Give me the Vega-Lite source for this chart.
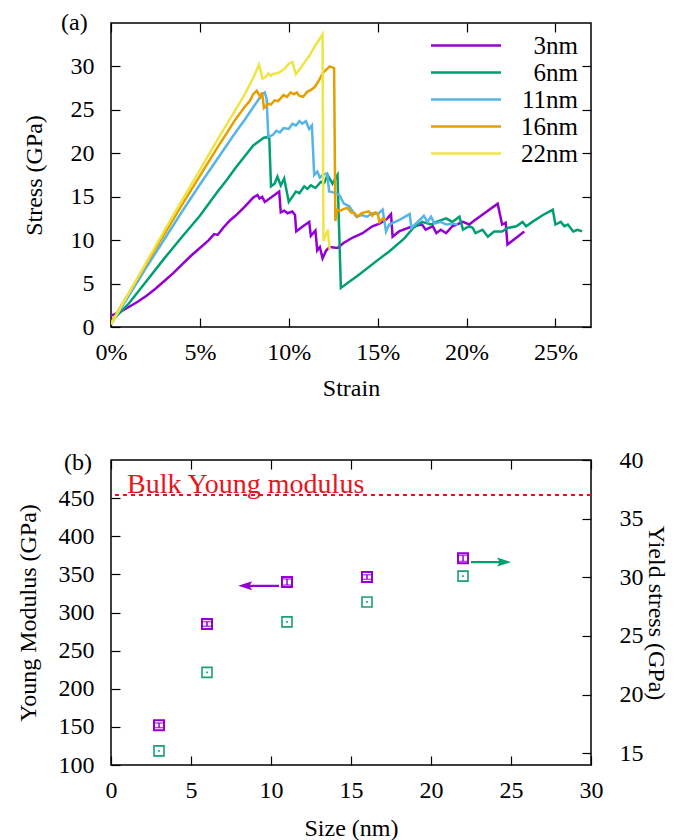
{
  "$schema": "https://vega.github.io/schema/vega-lite/v6.json",
  "padding": {"left": 15, "top": 10, "right": 5, "bottom": 5},
  "config": {
    "font": "Liberation Serif",
    "view": {"stroke": "black", "strokeWidth": 1.5},
    "axis": {"domain": false, "grid": false, "labelFlush": false, "tickSize": -9, "tickWidth": 1.2, "tickColor": "black", "labelFont": "Liberation Serif", "titleFont": "Liberation Serif", "labelFontSize": 24, "titleFontSize": 24, "titleFontWeight": "normal", "labelColor": "black", "titleColor": "black"},
    "axisX": {"labelPadding": 22},
    "axisY": {"labelPadding": 26},
    "title": {"font": "Liberation Serif", "fontSize": 24, "fontWeight": "normal", "color": "black"}
  },
  "datasets": {
    "curves": [
      {"d":"3nm","strain":0,"stress":1.3},{"d":"3nm","strain":0.005,"stress":1.7},{"d":"3nm","strain":0.01,"stress":2.3},{"d":"3nm","strain":0.015,"stress":2.9},{"d":"3nm","strain":0.02,"stress":3.6},{"d":"3nm","strain":0.025,"stress":4.4},{"d":"3nm","strain":0.03,"stress":5.3},{"d":"3nm","strain":0.035,"stress":6.2},{"d":"3nm","strain":0.04,"stress":7.2},{"d":"3nm","strain":0.045,"stress":8.2},{"d":"3nm","strain":0.05,"stress":9.1},{"d":"3nm","strain":0.055,"stress":10.0},{"d":"3nm","strain":0.058,"stress":10.7},{"d":"3nm","strain":0.06,"stress":10.6},{"d":"3nm","strain":0.063,"stress":11.4},{"d":"3nm","strain":0.067,"stress":12.3},{"d":"3nm","strain":0.07,"stress":12.8},{"d":"3nm","strain":0.075,"stress":13.8},{"d":"3nm","strain":0.08,"stress":14.9},{"d":"3nm","strain":0.0824,"stress":15.2},{"d":"3nm","strain":0.0835,"stress":14.8},{"d":"3nm","strain":0.085,"stress":15.0},{"d":"3nm","strain":0.0865,"stress":14.4},{"d":"3nm","strain":0.09,"stress":14.9},{"d":"3nm","strain":0.0946,"stress":15.6},{"d":"3nm","strain":0.0955,"stress":13.2},{"d":"3nm","strain":0.0975,"stress":13.4},{"d":"3nm","strain":0.0993,"stress":13.1},{"d":"3nm","strain":0.102,"stress":13.3},{"d":"3nm","strain":0.1035,"stress":12.9},{"d":"3nm","strain":0.1042,"stress":11.0},{"d":"3nm","strain":0.108,"stress":11.6},{"d":"3nm","strain":0.1115,"stress":12.1},{"d":"3nm","strain":0.1124,"stress":10.5},{"d":"3nm","strain":0.115,"stress":11.1},{"d":"3nm","strain":0.116,"stress":8.8},{"d":"3nm","strain":0.1175,"stress":9.2},{"d":"3nm","strain":0.119,"stress":7.9},{"d":"3nm","strain":0.121,"stress":8.8},{"d":"3nm","strain":0.123,"stress":9.2},{"d":"3nm","strain":0.1274,"stress":9.1},{"d":"3nm","strain":0.131,"stress":9.7},{"d":"3nm","strain":0.136,"stress":10.3},{"d":"3nm","strain":0.1415,"stress":10.8},{"d":"3nm","strain":0.147,"stress":11.6},{"d":"3nm","strain":0.151,"stress":11.9},{"d":"3nm","strain":0.155,"stress":12.4},{"d":"3nm","strain":0.1575,"stress":13.0},{"d":"3nm","strain":0.1584,"stress":10.4},{"d":"3nm","strain":0.162,"stress":11.0},{"d":"3nm","strain":0.1696,"stress":11.6},{"d":"3nm","strain":0.175,"stress":11.8},{"d":"3nm","strain":0.177,"stress":11.2},{"d":"3nm","strain":0.181,"stress":11.6},{"d":"3nm","strain":0.183,"stress":10.8},{"d":"3nm","strain":0.1855,"stress":11.2},{"d":"3nm","strain":0.1885,"stress":10.8},{"d":"3nm","strain":0.192,"stress":11.6},{"d":"3nm","strain":0.198,"stress":12.1},{"d":"3nm","strain":0.2015,"stress":11.8},{"d":"3nm","strain":0.204,"stress":12.2},{"d":"3nm","strain":0.2175,"stress":14.2},{"d":"3nm","strain":0.22,"stress":11.8},{"d":"3nm","strain":0.222,"stress":12.0},{"d":"3nm","strain":0.223,"stress":9.5},{"d":"3nm","strain":0.2325,"stress":11.0},
      {"d":"6nm","strain":0,"stress":0.6},{"d":"6nm","strain":0.01,"stress":2.7},{"d":"6nm","strain":0.02,"stress":5.3},{"d":"6nm","strain":0.03,"stress":7.9},{"d":"6nm","strain":0.04,"stress":10.4},{"d":"6nm","strain":0.05,"stress":12.8},{"d":"6nm","strain":0.06,"stress":15.6},{"d":"6nm","strain":0.065,"stress":16.9},{"d":"6nm","strain":0.07,"stress":18.3},{"d":"6nm","strain":0.075,"stress":19.6},{"d":"6nm","strain":0.08,"stress":20.9},{"d":"6nm","strain":0.084,"stress":21.5},{"d":"6nm","strain":0.086,"stress":21.8},{"d":"6nm","strain":0.089,"stress":21.9},{"d":"6nm","strain":0.09,"stress":16.2},{"d":"6nm","strain":0.092,"stress":16.5},{"d":"6nm","strain":0.0936,"stress":17.3},{"d":"6nm","strain":0.0955,"stress":16.3},{"d":"6nm","strain":0.0974,"stress":17.1},{"d":"6nm","strain":0.1,"stress":14.4},{"d":"6nm","strain":0.104,"stress":15.6},{"d":"6nm","strain":0.106,"stress":15.4},{"d":"6nm","strain":0.1087,"stress":16.2},{"d":"6nm","strain":0.1105,"stress":15.9},{"d":"6nm","strain":0.1124,"stress":16.3},{"d":"6nm","strain":0.115,"stress":16.0},{"d":"6nm","strain":0.118,"stress":16.7},{"d":"6nm","strain":0.12,"stress":16.6},{"d":"6nm","strain":0.1218,"stress":17.5},{"d":"6nm","strain":0.1246,"stress":16.5},{"d":"6nm","strain":0.1274,"stress":17.5},{"d":"6nm","strain":0.1293,"stress":4.5},{"d":"6nm","strain":0.14,"stress":6.1},{"d":"6nm","strain":0.15,"stress":7.7},{"d":"6nm","strain":0.1565,"stress":8.7},{"d":"6nm","strain":0.165,"stress":10.2},{"d":"6nm","strain":0.17,"stress":11.4},{"d":"6nm","strain":0.175,"stress":12.1},{"d":"6nm","strain":0.18,"stress":11.8},{"d":"6nm","strain":0.183,"stress":12.1},{"d":"6nm","strain":0.1885,"stress":12.5},{"d":"6nm","strain":0.192,"stress":12.1},{"d":"6nm","strain":0.196,"stress":12.7},{"d":"6nm","strain":0.198,"stress":11.2},{"d":"6nm","strain":0.2015,"stress":11.6},{"d":"6nm","strain":0.2035,"stress":11.4},{"d":"6nm","strain":0.205,"stress":10.8},{"d":"6nm","strain":0.209,"stress":11.2},{"d":"6nm","strain":0.212,"stress":10.4},{"d":"6nm","strain":0.2155,"stress":11.0},{"d":"6nm","strain":0.22,"stress":11.0},{"d":"6nm","strain":0.223,"stress":11.4},{"d":"6nm","strain":0.228,"stress":11.6},{"d":"6nm","strain":0.2315,"stress":12.1},{"d":"6nm","strain":0.2335,"stress":11.6},{"d":"6nm","strain":0.237,"stress":12.1},{"d":"6nm","strain":0.243,"stress":12.9},{"d":"6nm","strain":0.2485,"stress":13.5},{"d":"6nm","strain":0.25,"stress":11.8},{"d":"6nm","strain":0.253,"stress":12.1},{"d":"6nm","strain":0.255,"stress":11.6},{"d":"6nm","strain":0.257,"stress":11.8},{"d":"6nm","strain":0.26,"stress":11.0},{"d":"6nm","strain":0.2625,"stress":11.2},{"d":"6nm","strain":0.265,"stress":11.0},
      {"d":"11nm","strain":0,"stress":0.3},{"d":"11nm","strain":0.01,"stress":3.6},{"d":"11nm","strain":0.02,"stress":6.9},{"d":"11nm","strain":0.03,"stress":10.1},{"d":"11nm","strain":0.04,"stress":13.3},{"d":"11nm","strain":0.05,"stress":16.4},{"d":"11nm","strain":0.06,"stress":19.4},{"d":"11nm","strain":0.07,"stress":22.4},{"d":"11nm","strain":0.075,"stress":23.8},{"d":"11nm","strain":0.08,"stress":25.3},{"d":"11nm","strain":0.085,"stress":26.8},{"d":"11nm","strain":0.0865,"stress":27.0},{"d":"11nm","strain":0.0875,"stress":26.3},{"d":"11nm","strain":0.0885,"stress":21.9},{"d":"11nm","strain":0.091,"stress":22.1},{"d":"11nm","strain":0.093,"stress":22.6},{"d":"11nm","strain":0.095,"stress":22.4},{"d":"11nm","strain":0.097,"stress":22.9},{"d":"11nm","strain":0.1,"stress":22.8},{"d":"11nm","strain":0.102,"stress":23.4},{"d":"11nm","strain":0.104,"stress":23.2},{"d":"11nm","strain":0.106,"stress":23.7},{"d":"11nm","strain":0.1075,"stress":23.4},{"d":"11nm","strain":0.1096,"stress":23.7},{"d":"11nm","strain":0.1115,"stress":22.8},{"d":"11nm","strain":0.113,"stress":23.2},{"d":"11nm","strain":0.1143,"stress":17.5},{"d":"11nm","strain":0.116,"stress":17.9},{"d":"11nm","strain":0.1175,"stress":17.2},{"d":"11nm","strain":0.119,"stress":17.5},{"d":"11nm","strain":0.1216,"stress":17.7},{"d":"11nm","strain":0.1227,"stress":15.6},{"d":"11nm","strain":0.125,"stress":15.5},{"d":"11nm","strain":0.1265,"stress":15.4},{"d":"11nm","strain":0.1284,"stress":15.2},{"d":"11nm","strain":0.131,"stress":14.2},{"d":"11nm","strain":0.134,"stress":13.9},{"d":"11nm","strain":0.136,"stress":13.3},{"d":"11nm","strain":0.138,"stress":12.7},{"d":"11nm","strain":0.141,"stress":12.9},{"d":"11nm","strain":0.144,"stress":12.7},{"d":"11nm","strain":0.147,"stress":13.1},{"d":"11nm","strain":0.15,"stress":13.0},{"d":"11nm","strain":0.1528,"stress":13.5},{"d":"11nm","strain":0.1547,"stress":11.0},{"d":"11nm","strain":0.1565,"stress":11.8},{"d":"11nm","strain":0.162,"stress":12.3},{"d":"11nm","strain":0.168,"stress":13.0},{"d":"11nm","strain":0.169,"stress":11.4},{"d":"11nm","strain":0.1735,"stress":12.3},{"d":"11nm","strain":0.176,"stress":12.8},{"d":"11nm","strain":0.178,"stress":12.1},{"d":"11nm","strain":0.18,"stress":12.7},{"d":"11nm","strain":0.182,"stress":11.9},{"d":"11nm","strain":0.1855,"stress":12.1},{"d":"11nm","strain":0.1885,"stress":11.8},{"d":"11nm","strain":0.192,"stress":11.9},{"d":"11nm","strain":0.195,"stress":11.8},
      {"d":"16nm","strain":0,"stress":0.5},{"d":"16nm","strain":0.01,"stress":3.9},{"d":"16nm","strain":0.02,"stress":7.3},{"d":"16nm","strain":0.03,"stress":10.7},{"d":"16nm","strain":0.04,"stress":14.1},{"d":"16nm","strain":0.05,"stress":17.4},{"d":"16nm","strain":0.06,"stress":20.7},{"d":"16nm","strain":0.065,"stress":22.3},{"d":"16nm","strain":0.07,"stress":23.9},{"d":"16nm","strain":0.075,"stress":25.3},{"d":"16nm","strain":0.078,"stress":26.0},{"d":"16nm","strain":0.08,"stress":26.8},{"d":"16nm","strain":0.082,"stress":27.2},{"d":"16nm","strain":0.084,"stress":26.5},{"d":"16nm","strain":0.085,"stress":27.0},{"d":"16nm","strain":0.086,"stress":25.2},{"d":"16nm","strain":0.0885,"stress":25.7},{"d":"16nm","strain":0.09,"stress":25.6},{"d":"16nm","strain":0.092,"stress":26.1},{"d":"16nm","strain":0.094,"stress":26.0},{"d":"16nm","strain":0.097,"stress":26.7},{"d":"16nm","strain":0.099,"stress":26.5},{"d":"16nm","strain":0.101,"stress":27.0},{"d":"16nm","strain":0.103,"stress":26.8},{"d":"16nm","strain":0.1045,"stress":27.0},{"d":"16nm","strain":0.106,"stress":26.6},{"d":"16nm","strain":0.108,"stress":26.5},{"d":"16nm","strain":0.1105,"stress":27.1},{"d":"16nm","strain":0.1125,"stress":27.3},{"d":"16nm","strain":0.1145,"stress":27.6},{"d":"16nm","strain":0.117,"stress":28.4},{"d":"16nm","strain":0.119,"stress":29.2},{"d":"16nm","strain":0.121,"stress":29.6},{"d":"16nm","strain":0.123,"stress":30.0},{"d":"16nm","strain":0.1255,"stress":29.8},{"d":"16nm","strain":0.1262,"stress":12.2},{"d":"16nm","strain":0.1274,"stress":13.5},{"d":"16nm","strain":0.129,"stress":13.4},{"d":"16nm","strain":0.131,"stress":13.6},{"d":"16nm","strain":0.133,"stress":13.7},{"d":"16nm","strain":0.135,"stress":13.2},{"d":"16nm","strain":0.137,"stress":13.1},{"d":"16nm","strain":0.1387,"stress":12.7},{"d":"16nm","strain":0.141,"stress":13.1},{"d":"16nm","strain":0.1425,"stress":13.2},{"d":"16nm","strain":0.145,"stress":13.3},{"d":"16nm","strain":0.147,"stress":12.8},{"d":"16nm","strain":0.1485,"stress":13.2},{"d":"16nm","strain":0.15,"stress":13.1},{"d":"16nm","strain":0.151,"stress":12.1},{"d":"16nm","strain":0.153,"stress":12.5},{"d":"16nm","strain":0.1547,"stress":12.3},
      {"d":"22nm","strain":0,"stress":0.3},{"d":"22nm","strain":0.01,"stress":3.9},{"d":"22nm","strain":0.02,"stress":7.5},{"d":"22nm","strain":0.03,"stress":11.1},{"d":"22nm","strain":0.04,"stress":14.6},{"d":"22nm","strain":0.05,"stress":18.1},{"d":"22nm","strain":0.06,"stress":21.6},{"d":"22nm","strain":0.07,"stress":25.0},{"d":"22nm","strain":0.075,"stress":26.7},{"d":"22nm","strain":0.08,"stress":28.7},{"d":"22nm","strain":0.0833,"stress":30.2},{"d":"22nm","strain":0.0852,"stress":28.6},{"d":"22nm","strain":0.087,"stress":28.8},{"d":"22nm","strain":0.0885,"stress":29.2},{"d":"22nm","strain":0.09,"stress":28.9},{"d":"22nm","strain":0.0908,"stress":29.1},{"d":"22nm","strain":0.0946,"stress":29.3},{"d":"22nm","strain":0.098,"stress":29.8},{"d":"22nm","strain":0.1,"stress":30.3},{"d":"22nm","strain":0.102,"stress":30.5},{"d":"22nm","strain":0.104,"stress":29.1},{"d":"22nm","strain":0.107,"stress":29.9},{"d":"22nm","strain":0.109,"stress":30.5},{"d":"22nm","strain":0.1115,"stress":31.2},{"d":"22nm","strain":0.114,"stress":32.1},{"d":"22nm","strain":0.1165,"stress":32.9},{"d":"22nm","strain":0.119,"stress":33.7},{"d":"22nm","strain":0.1195,"stress":9.9},{"d":"22nm","strain":0.122,"stress":11.2},{"d":"22nm","strain":0.123,"stress":8.9}
    ],
    "modulus": [
      {"size":3,"E":152,"lo":149,"hi":155},{"size":6,"E":285,"lo":282,"hi":288},{"size":11,"E":340,"lo":336,"hi":344},{"size":16,"E":346.5,"lo":343.5,"hi":349.5},{"size":22,"E":371,"lo":367,"hi":375}
    ],
    "yield": [
      {"size":3,"Y":15.2},{"size":6,"Y":21.9},{"size":11,"Y":26.2},{"size":16,"Y":27.9},{"size":22,"Y":30.1}
    ],
    "bulk": [{"size":1.0,"E":454,"ty":456.5,"label":"Bulk Young modulus"}],
    "arrowP": [{"size":10.5,"E":335},{"size":8.2,"E":335}],
    "headP": [{"size":7.95,"E":335}],
    "arrowG": [{"size":22.5,"Y":31.3},{"size":24.7,"Y":31.3}],
    "headG": [{"size":25.0,"Y":31.3}]
  },
  "spacing": 46,
  "vconcat": [
    {
      "width": 480,
      "height": 304,
      "title": {"text": "(a)", "anchor": "start", "frame": "group", "dx": -50, "dy": 13, "offset": 0},
      "data": {"name": "curves"},
      "layer": [
        {
          "mark": {"type": "line", "strokeWidth": 2.5, "clip": true},
          "encoding": {
            "x": {"field": "strain", "type": "quantitative", "scale": {"domain": [0, 0.27], "nice": false, "zero": false}, "axis": {"values": [0, 0.05, 0.1, 0.15, 0.2, 0.25], "format": ".0%", "title": "Strain", "titlePadding": 12}},
            "y": {"field": "stress", "type": "quantitative", "scale": {"domain": [0, 35], "nice": false}, "axis": {"values": [0, 5, 10, 15, 20, 25, 30], "title": "Stress (GPa)", "titlePadding": 24}},
            "color": {"field": "d", "type": "nominal", "sort": ["3nm", "6nm", "11nm", "16nm", "22nm"], "scale": {"domain": ["3nm", "6nm", "11nm", "16nm", "22nm"], "range": ["#9400d3", "#009e73", "#56b4e9", "#e69f00", "#f0e442"]},
              "legend": {"orient": "none", "legendX": 341, "legendY": 8.5, "title": null, "symbolType": "M-2.8,0L2.8,0", "symbolSize": 625, "symbolStrokeWidth": 2.5, "labelFont": "Liberation Serif", "labelFontSize": 25, "labelColor": "black", "labelAlign": "right", "labelOffset": 98, "rowPadding": 0, "padding": 0}}
          }
        },
        {
          "mark": {"type": "point", "opacity": 0},
          "encoding": {
            "x": {"field": "strain", "type": "quantitative", "scale": {"domain": [0, 0.27], "nice": false, "zero": false}, "axis": {"orient": "top", "values": [0, 0.05, 0.1, 0.15, 0.2, 0.25], "labels": false, "title": null}},
            "y": {"field": "stress", "type": "quantitative", "scale": {"domain": [0, 35], "nice": false}, "axis": {"orient": "right", "values": [0, 5, 10, 15, 20, 25, 30], "labels": false, "title": null}}
          }
        }
      ],
      "resolve": {"axis": {"x": "independent", "y": "independent"}}
    },
    {
      "width": 480,
      "height": 305,
      "title": {"text": "(b)", "anchor": "start", "frame": "group", "dx": -47, "dy": 27, "offset": 0},
      "layer": [
        {
          "layer": [
            {
              "data": {"name": "bulk"},
              "mark": {"type": "rule", "color": "#e8141c", "strokeDash": [4, 4], "strokeWidth": 2},
              "encoding": {
                "y": {"field": "E", "type": "quantitative", "scale": {"domain": [100, 500], "nice": false, "zero": false}, "axis": {"orient": "left", "values": [100, 150, 200, 250, 300, 350, 400, 450], "title": "Young Modulus (GPa)", "titlePadding": 18}}
              }
            },
            {
              "data": {"name": "bulk"},
              "mark": {"type": "text", "color": "#e8141c", "fontSize": 28, "align": "left", "baseline": "alphabetic", "font": "Liberation Serif"},
              "encoding": {
                "x": {"field": "size", "type": "quantitative", "scale": {"domain": [0, 30], "nice": false}},
                "y": {"field": "ty", "type": "quantitative", "scale": {"domain": [100, 500], "nice": false, "zero": false}},
                "text": {"field": "label"}
              }
            },
            {
              "data": {"name": "modulus"},
              "mark": {"type": "rule", "color": "#9400d3", "strokeWidth": 1.5},
              "encoding": {
                "x": {"field": "size", "type": "quantitative", "scale": {"domain": [0, 30], "nice": false}},
                "y": {"field": "lo", "type": "quantitative", "scale": {"domain": [100, 500], "nice": false, "zero": false}},
                "y2": {"field": "hi"}
              }
            },
            {
              "data": {"name": "modulus"},
              "mark": {"type": "tick", "color": "#9400d3", "orient": "horizontal", "size": 8, "thickness": 1.5},
              "encoding": {
                "x": {"field": "size", "type": "quantitative", "scale": {"domain": [0, 30], "nice": false}},
                "y": {"field": "lo", "type": "quantitative", "scale": {"domain": [100, 500], "nice": false, "zero": false}}
              }
            },
            {
              "data": {"name": "modulus"},
              "mark": {"type": "tick", "color": "#9400d3", "orient": "horizontal", "size": 8, "thickness": 1.5},
              "encoding": {
                "x": {"field": "size", "type": "quantitative", "scale": {"domain": [0, 30], "nice": false}},
                "y": {"field": "hi", "type": "quantitative", "scale": {"domain": [100, 500], "nice": false, "zero": false}}
              }
            },
            {
              "data": {"name": "modulus"},
              "mark": {"type": "point", "shape": "square", "filled": false, "size": 100, "strokeWidth": 2, "color": "#9400d3", "opacity": 1},
              "encoding": {
                "x": {"field": "size", "type": "quantitative", "scale": {"domain": [0, 30], "nice": false}, "axis": {"orient": "bottom", "values": [0, 5, 10, 15, 20, 25, 30], "title": "Size (nm)", "titlePadding": 14}},
                "y": {"field": "E", "type": "quantitative", "scale": {"domain": [100, 500], "nice": false, "zero": false}}
              }
            },
            {
              "data": {"name": "arrowP"},
              "mark": {"type": "line", "color": "#9400d3", "strokeWidth": 2.2},
              "encoding": {
                "x": {"field": "size", "type": "quantitative", "scale": {"domain": [0, 30], "nice": false}},
                "y": {"field": "E", "type": "quantitative", "scale": {"domain": [100, 500], "nice": false, "zero": false}}
              }
            },
            {
              "data": {"name": "headP"},
              "mark": {"type": "point", "shape": "M0,0L1,-0.32L0.8,0L1,0.32Z", "filled": true, "size": 784, "color": "#9400d3", "opacity": 1},
              "encoding": {
                "x": {"field": "size", "type": "quantitative", "scale": {"domain": [0, 30], "nice": false}},
                "y": {"field": "E", "type": "quantitative", "scale": {"domain": [100, 500], "nice": false, "zero": false}}
              }
            }
          ]
        },
        {
          "layer": [
            {
              "data": {"name": "yield"},
              "mark": {"type": "point", "shape": "square", "filled": false, "size": 100, "strokeWidth": 1.6, "color": "#189e7a", "opacity": 1},
              "encoding": {
                "x": {"field": "size", "type": "quantitative", "scale": {"domain": [0, 30], "nice": false}, "axis": {"orient": "top", "values": [0, 5, 10, 15, 20, 25, 30], "labels": false, "title": null}},
                "y": {"field": "Y", "type": "quantitative", "scale": {"domain": [14, 40], "nice": false, "zero": false}, "axis": {"orient": "right", "values": [15, 20, 25, 30, 35, 40], "title": "Yield stress (GPa)", "titlePadding": 0, "labelPadding": 37}}
              }
            },
            {
              "data": {"name": "yield"},
              "mark": {"type": "point", "shape": "square", "filled": true, "size": 3, "color": "#189e7a", "opacity": 1},
              "encoding": {
                "x": {"field": "size", "type": "quantitative", "scale": {"domain": [0, 30], "nice": false}},
                "y": {"field": "Y", "type": "quantitative", "scale": {"domain": [14, 40], "nice": false, "zero": false}}
              }
            },
            {
              "data": {"name": "arrowG"},
              "mark": {"type": "line", "color": "#009e73", "strokeWidth": 2.2},
              "encoding": {
                "x": {"field": "size", "type": "quantitative", "scale": {"domain": [0, 30], "nice": false}},
                "y": {"field": "Y", "type": "quantitative", "scale": {"domain": [14, 40], "nice": false, "zero": false}}
              }
            },
            {
              "data": {"name": "headG"},
              "mark": {"type": "point", "shape": "M0,0L-1,-0.32L-0.8,0L-1,0.32Z", "filled": true, "size": 784, "color": "#009e73", "opacity": 1},
              "encoding": {
                "x": {"field": "size", "type": "quantitative", "scale": {"domain": [0, 30], "nice": false}},
                "y": {"field": "Y", "type": "quantitative", "scale": {"domain": [14, 40], "nice": false, "zero": false}}
              }
            }
          ]
        }
      ],
      "resolve": {"scale": {"y": "independent"}, "axis": {"x": "independent", "y": "independent"}}
    }
  ]
}
